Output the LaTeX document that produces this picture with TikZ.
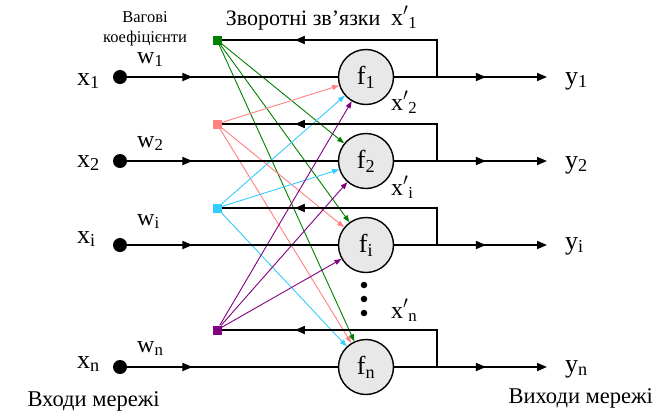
\documentclass[tikz,border=0pt]{standalone}
\usepackage{fontspec}
\setmainfont{Liberation Serif}
\usetikzlibrary{positioning, arrows.meta, decorations.markings}
\definecolor{fbgreen}{HTML}{008000}
\definecolor{fbpink}{HTML}{FF8080}
\definecolor{fbblue}{HTML}{33CCFF}
\definecolor{fbpurple}{HTML}{800080}
\definecolor{neurongray}{HTML}{E8E8E8}

\tikzset{
  blackline/.style={line width=1.7pt},
  midarrow/.style={postaction=decorate, decoration={markings,
      mark=at position #1 with {\arrow{Triangle[length=10pt, width=8pt]}}}},
  wire/.style={line width=0.9pt, -{Triangle[length=7pt, width=5pt]}},
  indot/.style={circle, fill=black, inner sep=0pt, minimum size=14pt},
  vdot/.style={circle, fill=black, inner sep=0pt, minimum size=6.5pt},
  fbsq/.style={rectangle, inner sep=0pt, minimum size=9pt},
  neuron/.style={circle, draw=black, line width=1.4pt, fill=neurongray,
      minimum size=55pt, inner sep=0pt, font=\fontsize{26}{30}\selectfont},
  varlbl/.style={anchor=base west, inner sep=0pt, font=\fontsize{26}{30}\selectfont},
}

\begin{document}
\begin{tikzpicture}[x=1pt, y=-1pt]
  \useasboundingbox (0,0) rectangle (659,413);

  % inputs, neurons, feedback points
  \node[indot] (in1) at (120,77) {};
  \node[indot] (in2) at (120,161) {};
  \node[indot] (ini) at (120,245) {};
  \node[indot] (inn) at (120,367) {};
  \node[neuron] (f1) at (366,77) {f\textsubscript{1}};
  \node[neuron] (f2) at (366,161) {f\textsubscript{2}};
  \node[neuron] (fi) at (366,245) {f\textsubscript{i}};
  \node[neuron] (fn) at (366,367) {f\textsubscript{n}};
  \node[fbsq, fill=fbgreen] (fb1) at (217,40) {};
  \node[fbsq, fill=fbpink] (fb2) at (217,124) {};
  \node[fbsq, fill=fbblue] (fbi) at (217,208) {};
  \node[fbsq, fill=fbpurple] (fbn) at (217,330) {};
  \node[vdot] (d1) at (364,285) {};
  \node[vdot] (d2) at (364,299) {};
  \node[vdot] (d3) at (364,313) {};

  \coordinate (j1) at (437,77);
  \coordinate (j2) at (437,161);
  \coordinate (ji) at (437,245);
  \coordinate (jn) at (437,367);
  \coordinate (out1) at (547,77);
  \coordinate (out2) at (547,161);
  \coordinate (outi) at (547,245);
  \coordinate (outn) at (547,367);

  % weighted feedback connections
  \draw[wire, fbgreen] (fb1) -- (f2);
  \draw[wire, fbgreen] (fb1) -- (fi);
  \draw[wire, fbgreen] (fb1) -- (fn);
  \draw[wire, fbpink] (fb2) -- (f1);
  \draw[wire, fbpink] (fb2) -- (fi);
  \draw[wire, fbpink] (fb2) -- (fn);
  \draw[wire, fbblue] (fbi) -- (f1);
  \draw[wire, fbblue] (fbi) -- (f2);
  \draw[wire, fbblue] (fbi) -- (fn);
  \draw[wire, fbpurple] (fbn) -- (f1);
  \draw[wire, fbpurple] (fbn) -- (f2);
  \draw[wire, fbpurple] (fbn) -- (fi);

  % input lines
  \draw[blackline, midarrow=0.31] (in1) -- (f1);
  \draw[blackline, midarrow=0.31] (in2) -- (f2);
  \draw[blackline, midarrow=0.31] (ini) -- (fi);
  \draw[blackline, midarrow=0.31] (inn) -- (fn);

  % outputs
  \draw[blackline, midarrow=0.6, -{Triangle[length=10pt, width=8pt]}] (f1) -- (out1);
  \draw[blackline, midarrow=0.6, -{Triangle[length=10pt, width=8pt]}] (f2) -- (out2);
  \draw[blackline, midarrow=0.6, -{Triangle[length=10pt, width=8pt]}] (fi) -- (outi);
  \draw[blackline, midarrow=0.6, -{Triangle[length=10pt, width=8pt]}] (fn) -- (outn);

  % feedback loops
  \draw[blackline, midarrow=0.71] (j1) |- (fb1);
  \draw[blackline, midarrow=0.71] (j2) |- (fb2);
  \draw[blackline, midarrow=0.71] (ji) |- (fbi);
  \draw[blackline, midarrow=0.71] (jn) |- (fbn);

  % labels
  \node[varlbl] (lx1) at (77,85) {x\textsubscript{1}};
  \node[varlbl] (lx2) at (77,167) {x\textsubscript{2}};
  \node[varlbl] (lxi) at (77,243) {x\textsubscript{i}};
  \node[varlbl] (lxn) at (77,368) {x\textsubscript{n}};
  \node[varlbl, font=\fontsize{24}{28}\selectfont] (lw1) at (137,63) {w\textsubscript{1}};
  \node[varlbl, font=\fontsize{24}{28}\selectfont] (lw2) at (137,147) {w\textsubscript{2}};
  \node[varlbl, font=\fontsize{24}{28}\selectfont] (lwi) at (137,225) {w\textsubscript{i}};
  \node[varlbl, font=\fontsize{24}{28}\selectfont] (lwn) at (137,352) {w\textsubscript{n}};
  \node[varlbl] (ly1) at (565,84) {y\textsubscript{1}};
  \node[varlbl] (ly2) at (565,168) {y\textsubscript{2}};
  \node[varlbl] (lyi) at (565,249) {y\textsubscript{i}};
  \node[varlbl] (lyn) at (565,372) {y\textsubscript{n}};
  \node[varlbl, font=\fontsize{24}{28}\selectfont] (lp1) at (391,25) {x$'$\textsubscript{1}};
  \node[varlbl, font=\fontsize{24}{28}\selectfont] (lp2) at (391,110) {x$'$\textsubscript{2}};
  \node[varlbl, font=\fontsize{24}{28}\selectfont] (lpi) at (391,195) {x$'$\textsubscript{i}};
  \node[varlbl, font=\fontsize{24}{28}\selectfont] (lpn) at (391,318) {x$'$\textsubscript{n}};

  \node[anchor=base east, font=\fontsize{22}{26}\selectfont] (title) at (384,25)
    {Зворотні зв’язки};
  \node[anchor=base, align=center, inner sep=0pt, font=\fontsize{16.5}{20}\selectfont] (wlbl) at (145,42)
    {Вагові\\коефіцієнти};
  \node[anchor=base west, font=\fontsize{22.5}{26}\selectfont] (inlbl) at (24,406)
    {Входи мережі};
  \node[anchor=base west, font=\fontsize{22.5}{26}\selectfont] (outlbl) at (505,403)
    {Виходи мережі};
\end{tikzpicture}
\end{document}
